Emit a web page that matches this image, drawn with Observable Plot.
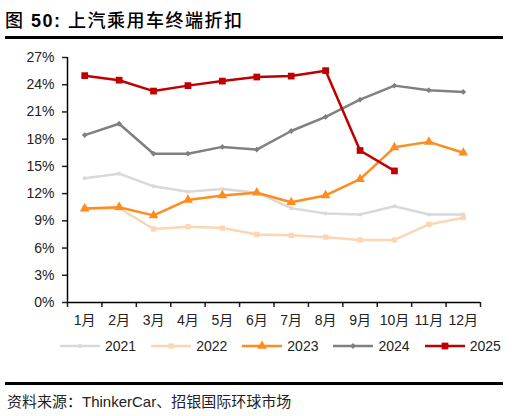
<!DOCTYPE html>
<html>
<head>
<meta charset="utf-8">
<script src="https://cdn.jsdelivr.net/npm/d3@7"></script>
<script src="https://cdn.jsdelivr.net/npm/@observablehq/plot@0.6"></script>
<style>
  body { margin: 0; background: #fff; font-family: "Liberation Sans", Arial, "Noto Sans CJK SC", sans-serif; }
  #wrap { position: relative; width: 513px; height: 416px; overflow: hidden; }
  #title { position: absolute; left: 5px; top: 6px; font-size: 18px; font-weight: bold; letter-spacing: 1.5px; color: #000; }
  #title .cjk { font-family: "Noto Sans CJK SC", sans-serif; font-weight: 500; }
  .rule { position: absolute; left: 5px; width: 498px; height: 3px; background: #000; }
  #chart { position: absolute; left: 0; top: 40px; }
  #legend { position: absolute; left: 60px; top: 338px; display: flex; align-items: center; font-size: 14px; color: #222; }
  #legend .item { display: flex; align-items: center; margin-right: 15px; }
  #legend svg { margin-right: 3px; }
  #source { position: absolute; left: 7px; top: 390px; font-size: 15px; color: #222; }
</style>
</head>
<body>
<div id="wrap">
  <div id="title"><span class="cjk">图</span> 50: <span class="cjk">上汽乘用车终端折扣</span></div>
  <div class="rule" style="top:36px"></div>
  <div id="chart"></div>
  <div id="legend"></div>
  <div class="rule" style="top:382px"></div>
  <div id="source">资料来源：ThinkerCar、招银国际环球市场</div>
</div>
<script>
// 月份
const months = ["1月", "2月", "3月", "4月", "5月", "6月", "7月", "8月", "9月", "10月", "11月", "12月"]
const yTicks = [0, 3, 6, 9, 12, 15, 18, 21, 24, 27]

// 折扣率 (%)
const years = ["2021", "2022", "2023", "2024", "2025"]
const s2021 = [13.7, 14.2, 12.8, 12.2, 12.5, 12.1, 10.4, 9.8, 9.7, 10.6, 9.7, 9.7]
const s2022 = [10.4, 10.4, 8.1, 8.35, 8.2, 7.5, 7.4, 7.2, 6.9, 6.9, 8.6, 9.35]
const s2023 = [10.35, 10.5, 9.6, 11.3, 11.8, 12.1, 11.05, 11.8, 13.6, 17.1, 17.7, 16.5]
const s2024 = [18.45, 19.7, 16.4, 16.4, 17.15, 16.85, 18.9, 20.45, 22.35, 23.9, 23.4, 23.2]
const s2025 = [25.0, 24.5, 23.3, 23.9, 24.4, 24.85, 24.95, 25.55, 16.75, 14.5]

const colors = ["#d9d9d9", "#fcd5b5", "#ff8c1e", "#808080", "#c00000"]
const symbols = ["circle", "square", "triangle", "diamond2", "square"]
const radius = [2, 3, 3.6, 2.6, 3.8]

const series = [s2021, s2022, s2023, s2024, s2025]
const rows = series.flatMap((vals, k) => vals.map((v, i) => ({ year: years[k], m: i + 1, v })))
const edges = months.map((_, i) => i + 0.5).concat(months.length + 0.5)

let marks = [
  Plot.axisY({ ticks: yTicks, tickFormat: d => d + "%", tickSize: 5, tickPadding: 8, label: null, strokeWidth: 1.5 }),
  Plot.axisX({ ticks: edges, tickFormat: () => "", tickSize: 5, label: null, strokeWidth: 1.5 }),
  Plot.axisX({ ticks: months.map((_, i) => i + 1), tickFormat: i => months[i - 1], tickSize: 0, tickPadding: 13, label: null }),
  Plot.ruleX([0.5], { stroke: "#000", strokeWidth: 1.5 }),
  Plot.ruleY([0], { stroke: "#000", strokeWidth: 1.5 }),
]

// 一年一条线，2025 画在最上面
years.forEach((yr, k) => {
  const d = rows.filter(r => r.year === yr)
  marks.push(Plot.line(d, { x: "m", y: "v", stroke: colors[k], strokeWidth: 2.5 }))
  marks.push(Plot.dot(d, { x: "m", y: "v", fill: colors[k], symbol: symbols[k], r: radius[k] }))
})

let chart = Plot.plot({
  width: 513,
  height: 295,
  marginLeft: 67,
  marginRight: 33,
  marginTop: 17,
  marginBottom: 33,
  x: { type: "linear", domain: [0.5, 12.5] },
  y: { domain: [0, 27] },
  style: { fontFamily: "'Liberation Sans', Arial, 'Noto Sans CJK SC', sans-serif", fontSize: "14px", color: "#222", background: "white" },
  marks: marks,
})
document.getElementById("chart").append(chart)

// 图例
const symbolTypes = { circle: d3.symbolCircle, square: d3.symbolSquare, triangle: d3.symbolTriangle, diamond2: d3.symbolDiamond2 }
const legend = d3.select("#legend")
years.forEach((yr, k) => {
  const item = legend.append("div").attr("class", "item")
  const svg = item.append("svg").attr("width", 42).attr("height", 12)
  svg.append("line").attr("x1", 0).attr("x2", 40).attr("y1", 6).attr("y2", 6)
    .attr("stroke", colors[k]).attr("stroke-width", 2.5)
  svg.append("path").attr("transform", "translate(20,6)").attr("fill", colors[k])
    .attr("d", d3.symbol(symbolTypes[symbols[k]], Math.PI * radius[k] * radius[k])())
  item.append("span").text(yr)
})
</script>
</body>
</html>
